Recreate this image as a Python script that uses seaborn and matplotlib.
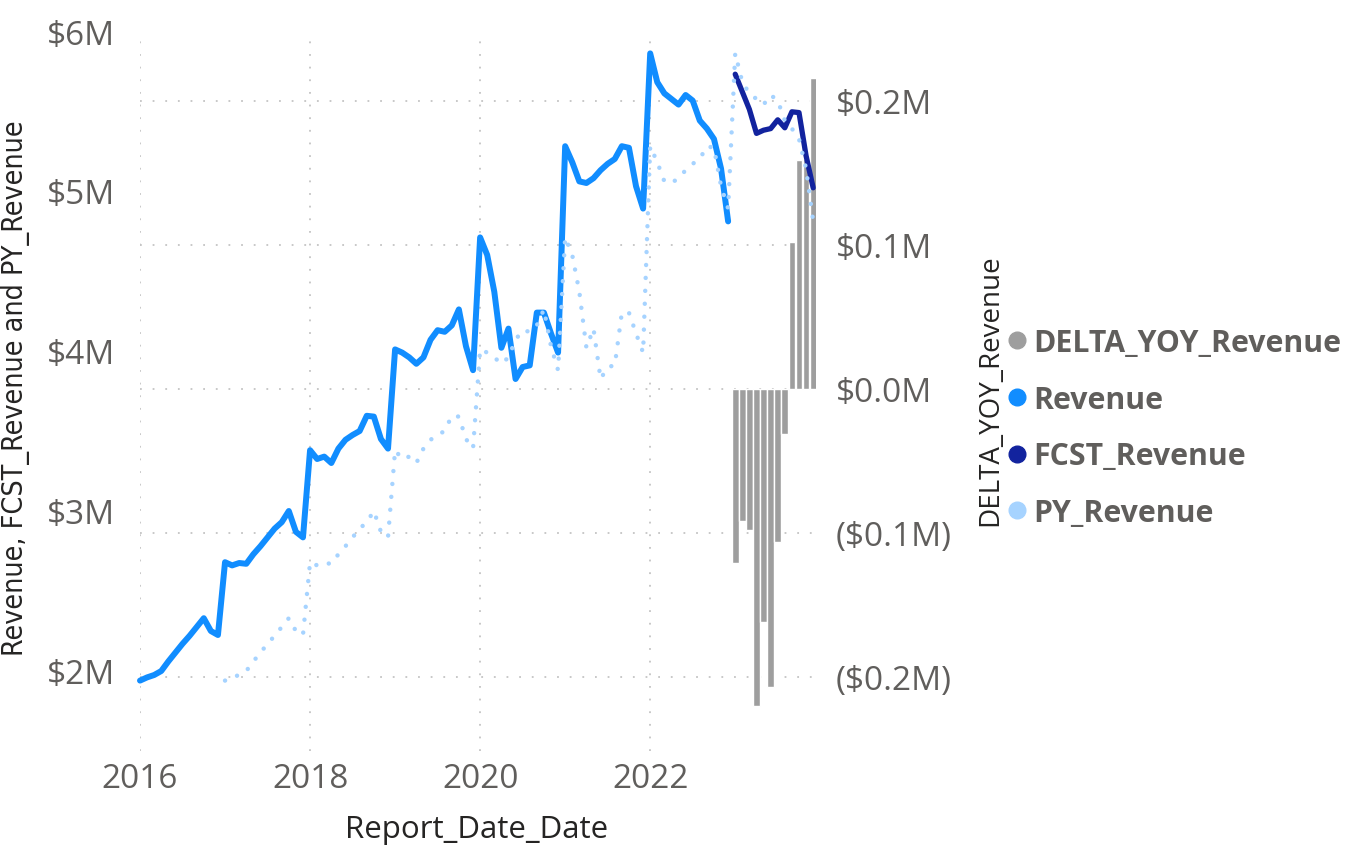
#Revenue vs forecast vs prior-year revenue, with YoY delta bars on a second axis
import pandas as pd
import seaborn as sns
import matplotlib.pyplot as plt
from matplotlib.lines import Line2D
import matplotlib.ticker as mtick

#monthly values in $M
revenue = [1.94, 1.96, 1.975, 2.00, 2.06, 2.115, 2.17, 2.22, 2.275, 2.33, 2.25, 2.225,
           2.68, 2.66, 2.675, 2.67, 2.73, 2.78, 2.835, 2.89, 2.93, 3.00, 2.87, 2.835,
           3.38, 3.325, 3.34, 3.30, 3.39, 3.445, 3.475, 3.50, 3.595, 3.59, 3.45, 3.39,
           4.01, 3.99, 3.96, 3.92, 3.96, 4.07, 4.13, 4.12, 4.16, 4.26, 4.03, 3.88,
           4.71, 4.60, 4.37, 4.02, 4.14, 3.825, 3.90, 3.91, 4.24, 4.24, 4.11, 3.99,
           5.28, 5.18, 5.06, 5.05, 5.08, 5.13, 5.17, 5.20, 5.28, 5.27, 5.03, 4.89,
           5.86, 5.68, 5.61, 5.575, 5.54, 5.60, 5.565, 5.44, 5.39, 5.325, 5.14, 4.81]
revenue_start = '2016-01-01'

fcst_revenue = [5.73, 5.62, 5.51, 5.36, 5.38, 5.39, 5.445, 5.395, 5.495, 5.49, 5.22, 5.02]
fcst_start = '2023-01-01'

py_revenue = [1.94, 1.96, 1.975, 2.00, 2.06, 2.115, 2.17, 2.22, 2.275, 2.33, 2.25, 2.225,
              2.68, 2.66, 2.675, 2.67, 2.73, 2.78, 2.835, 2.89, 2.93, 3.00, 2.87, 2.835,
              3.38, 3.325, 3.34, 3.30, 3.39, 3.445, 3.475, 3.50, 3.595, 3.59, 3.45, 3.39,
              4.01, 3.99, 3.96, 3.92, 3.96, 4.07, 4.13, 4.12, 4.16, 4.26, 4.03, 3.88,
              4.71, 4.60, 4.37, 4.02, 4.14, 3.825, 3.90, 3.91, 4.24, 4.24, 4.11, 3.99,
              5.28, 5.18, 5.06, 5.05, 5.08, 5.13, 5.17, 5.20, 5.28, 5.27, 5.03, 4.89,
              5.86, 5.68, 5.61, 5.575, 5.54, 5.60, 5.565, 5.44, 5.39, 5.325, 5.14, 4.81]
py_start = '2017-01-01'

delta_yoy = [-0.121, -0.092, -0.098, -0.220, -0.162, -0.207, -0.106, -0.031,
             0.102, 0.159, 0.160, 0.216]

left_ticks = [2, 3, 4, 5, 6]
right_ticks = [-0.2, -0.1, 0.0, 0.1, 0.2]
right_labels = ['($0.2M)', '($0.1M)', '$0.0M', '$0.1M', '$0.2M']
year_ticks = [2016, 2018, 2020, 2022]

def dec_years(start, n):
    d = pd.date_range(start, periods=n, freq='MS')
    return d.year + (d.month - 1) / 12

rev_x = dec_years(revenue_start, len(revenue))
fcst_x = dec_years(fcst_start, len(fcst_revenue))
py_x = dec_years(py_start, len(py_revenue))

sns.set_style('white')
plt.rcParams['font.family'] = ['Open Sans', 'DejaVu Sans']

C_REV, C_FCST, C_PY, C_DELTA = '#118DFF', '#12239E', '#A6D3FF', '#9E9E9E'
TXT = '#605E5C'

fig = plt.figure(figsize=(13.56, 8.53), dpi=100)
ax = fig.add_axes([140/1356, 1 - 752/853, 676/1356, 720/853])
ax2 = ax.twinx()

#bars on the secondary axis, underneath the lines
sns.barplot(x=fcst_x, y=delta_yoy, ax=ax2, native_scale=True, color=C_DELTA,
            saturation=1, width=0.95)

sns.lineplot(x=rev_x, y=revenue, ax=ax, color=C_REV)
rev_line = ax.get_lines()[-1]
sns.lineplot(x=fcst_x, y=fcst_revenue, ax=ax, color=C_FCST)
fcst_line = ax.get_lines()[-1]
sns.lineplot(x=py_x, y=py_revenue, ax=ax, color=C_PY)
py_line = ax.get_lines()[-1]
rev_line.set_linewidth(4.3)
rev_line.set_clip_on(False)
rev_line.set_solid_joinstyle('round')
fcst_line.set_linewidth(3.8)
fcst_line.set_solid_joinstyle('round')
py_line.set_linewidth(3.2)
py_line.set_linestyle((0, (0.01, 2.9)))
py_line.set_dash_capstyle('round')

ax.set_zorder(ax2.get_zorder() + 1)
ax.patch.set_visible(False)

ax.set_xlim(2016.0, 2023.95)
ax.set_ylim(1.5, 6.0)
ax2.set_ylim(-0.2514, 0.2486)

ax.set_yticks(left_ticks)
ax.yaxis.set_major_formatter(mtick.FuncFormatter(lambda v, p: f'${v:.0f}M'))
ax2.set_yticks(right_ticks)
ax2.set_yticklabels(right_labels)
ax.set_xticks(year_ticks)
ax.set_xticklabels([str(y) for y in year_ticks])

ax.tick_params(axis='y', length=0, pad=18, labelsize=24, labelcolor=TXT)
ax.tick_params(axis='x', length=0, pad=8, labelsize=24, labelcolor=TXT)
ax2.tick_params(axis='y', length=0, pad=14, labelsize=24, labelcolor=TXT)

#dotted grid: vertical from the date axis, horizontal from the delta axis
dots = dict(color='#C4C4C4', linewidth=1.3, linestyle=(0, (1, 6)))
ax.grid(False)
ax.xaxis.grid(True, **dots)
ax2.grid(False)
ax2.yaxis.grid(True, **dots)
ax2.set_axisbelow(True)

for a in (ax, ax2):
    for s in a.spines.values():
        s.set_visible(False)
ax.set(xlabel='', ylabel='')
ax2.set(xlabel='', ylabel='')

fig.text(477/1356, 1 - 830/853, 'Report_Date_Date', ha='center', va='center',
         fontsize=22.5, color='#252423')
fig.text(16/1356, 1 - 388/853, 'Revenue, FCST_Revenue and PY_Revenue', rotation=90,
         ha='center', va='center', fontsize=20.5, color='#252423',
         family='DejaVu Sans', stretch='condensed')
fig.text(990/1356, 1 - 390/853, 'DELTA_YOY_Revenue', rotation=90, ha='center',
         va='center', fontsize=20, color='#252423')

names = ['DELTA_YOY_Revenue', 'Revenue', 'FCST_Revenue', 'PY_Revenue']
colors = [C_DELTA, C_REV, C_FCST, C_PY]
handles = [Line2D([], [], marker='o', linestyle='', markersize=12, color=c) for c in colors]
leg = fig.legend(handles, names, loc='center left', bbox_to_anchor=(982/1356, 1 - 429/853),
                 frameon=False, handlelength=0.5, handletextpad=0.3, labelspacing=0.88,
                 prop={'weight': 'bold', 'size': 21.8})
for t in leg.get_texts():
    t.set_color(TXT)

fig.savefig('out.png', dpi=100)
